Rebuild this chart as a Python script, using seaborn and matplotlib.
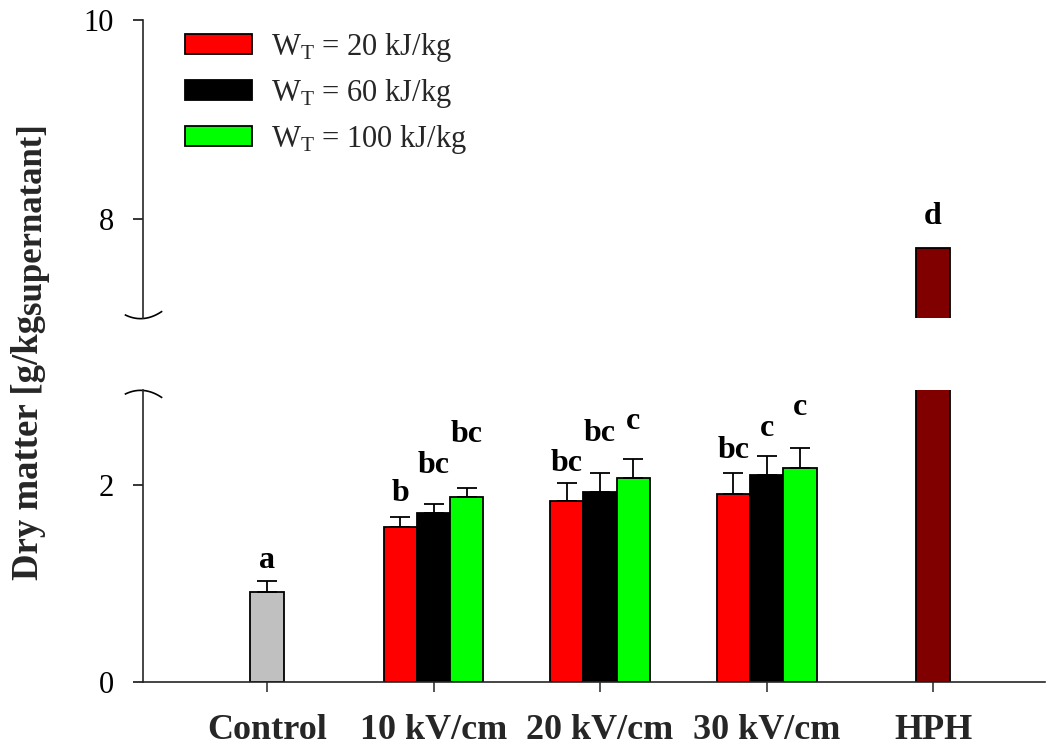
import numpy as np
import pandas as pd
import matplotlib
matplotlib.use("Agg")
import matplotlib.pyplot as plt
from matplotlib.path import Path
from matplotlib.patches import Patch
import seaborn as sns

# ---------------- data ----------------
categories = ["Control", "10 kV/cm", "20 kV/cm", "30 kV/cm", "HPH"]

single_cats = ["Control", "HPH"]
single_vals = [0.91, 7.71]
single_err = [0.11, 0.0]
single_letters = ["a", "d"]
single_letter_y = [1.16, 7.95]

pef_cats = ["10 kV/cm", "20 kV/cm", "30 kV/cm"]
energy_levels = [r"W$_{\mathrm{T}}$ = 20 kJ/kg",
                 r"W$_{\mathrm{T}}$ = 60 kJ/kg",
                 r"W$_{\mathrm{T}}$ = 100 kJ/kg"]
vals_20 = [1.57, 1.83, 1.91]
vals_60 = [1.71, 1.93, 2.10]
vals_100 = [1.88, 2.07, 2.17]
err_20 = [0.10, 0.19, 0.21]
err_60 = [0.09, 0.19, 0.19]
err_100 = [0.09, 0.19, 0.20]
letters_20 = ["b", "bc", "bc"]
letters_60 = ["bc", "bc", "c"]
letters_100 = ["bc", "c", "c"]
letter_y_20 = [1.83, 2.14, 2.27]
letter_y_60 = [2.12, 2.44, 2.49]
letter_y_100 = [2.43, 2.56, 2.71]

ylabel_main = "Dry matter [g/kg"
ylabel_sub = "supernatant]"

single_colors = ["#C0C0C0", "#800000"]
energy_colors = ["#FF0000", "#000000", "#00FF00"]

# ---------------- tables ----------------
df_single = pd.DataFrame({"Treatment": single_cats, "Value": single_vals})
df_pef = pd.DataFrame({
    "Treatment": pef_cats * 3,
    "Energy": [energy_levels[0]] * 3 + [energy_levels[1]] * 3 + [energy_levels[2]] * 3,
    "Value": vals_20 + vals_60 + vals_100,
})
pef_errs = [err_20, err_60, err_100]
pef_letters = [letters_20, letters_60, letters_100]
pef_letter_y = [letter_y_20, letter_y_60, letter_y_100]

# ---------------- style ----------------
sns.set_theme(style="ticks")
plt.rcParams["font.family"] = ["Liberation Serif", "DejaVu Serif"]
plt.rcParams["mathtext.fontset"] = "custom"
plt.rcParams["mathtext.rm"] = "Liberation Serif"
plt.rcParams["mathtext.it"] = "Liberation Serif:italic"
plt.rcParams["mathtext.bf"] = "Liberation Serif:bold"

fig = plt.figure(figsize=(10.51, 7.54), dpi=100)
ax_low = fig.add_axes([0.136, 0.0955, 0.858, 0.3873])
ax_up = fig.add_axes([0.136, 0.578, 0.858, 0.3955])

LW = 1.3
LETTER_FS = 23


def draw(ax):
    sns.barplot(data=df_single, x="Treatment", y="Value", hue="Treatment",
                order=categories, hue_order=single_cats,
                palette=dict(zip(single_cats, single_colors)), saturation=1,
                width=0.2, dodge=False, errorbar=None, edgecolor="black",
                linewidth=LW, legend=False, ax=ax)
    n0 = len(ax.containers)
    sns.barplot(data=df_pef, x="Treatment", y="Value", hue="Energy",
                order=categories, hue_order=energy_levels,
                palette=dict(zip(energy_levels, energy_colors)), saturation=1,
                width=0.6, dodge=True, errorbar=None, edgecolor="black",
                linewidth=LW, legend=False, ax=ax)
    info = []
    for cont in ax.containers[:n0]:
        for bar in cont:
            xc = bar.get_x() + bar.get_width() / 2
            cat = categories[int(round(xc))]
            i = single_cats.index(cat)
            info.append((xc, bar.get_height(), single_err[i],
                         single_letters[i], single_letter_y[i]))
    for k, cont in enumerate(ax.containers[n0:n0 + 3]):
        for bar in cont:
            xc = bar.get_x() + bar.get_width() / 2
            cat = categories[int(round(xc))]
            j = pef_cats.index(cat)
            info.append((xc, bar.get_height(), pef_errs[k][j],
                         pef_letters[k][j], pef_letter_y[k][j]))
    return info


info_low = draw(ax_low)
info_up = draw(ax_up)

for ax, info, lim in [(ax_low, info_low, (0, 2.96)), (ax_up, info_up, (7.0, 10.0))]:
    ax.set_ylim(*lim)
    ax.set_xlim(-0.745, 4.67)
    for xc, h, e, letter, ly in info:
        if e > 0:
            ax.errorbar([xc], [h], yerr=[[0], [e]], fmt="none", ecolor="black",
                        elinewidth=LW, capsize=7.5, capthick=LW, zorder=3)
        if lim[0] <= ly <= lim[1]:
            ax.text(xc, ly, letter, ha="center", va="baseline",
                    fontsize=LETTER_FS, fontweight="bold", color="black")
    ax.set_xlabel("")
    ax.set_ylabel("")
    for s in ["top", "right"]:
        ax.spines[s].set_visible(False)
    ax.spines["left"].set_linewidth(1.2)
    ax.spines["bottom"].set_linewidth(1.2)
    ax.tick_params(axis="y", direction="out", length=7, width=1.1, pad=14,
                   labelsize=22, colors="black")

ax_low.set_yticks([0, 2])
ax_up.set_yticks([8, 10])
ax_low.tick_params(axis="x", direction="out", length=7, width=1.1, pad=16,
                   labelsize=26)
for lab in ax_low.get_xticklabels():
    lab.set_fontweight("bold")
ax_up.spines["bottom"].set_visible(False)
ax_up.tick_params(axis="x", bottom=False, labelbottom=False)

# break marks
xs = np.linspace(-19, 19, 40)
ys = -3 + 4 * ((xs + 3) / 16) ** 2
ys = ys - (-3 + 4 * (3 / 16) ** 2)
path_up = Path(np.column_stack([xs, ys]))
path_low = Path(np.column_stack([xs, -ys]))
ax_up.plot([0], [0], transform=ax_up.transAxes, marker=path_up, markersize=27,
           markerfacecolor="none", markeredgecolor="black", markeredgewidth=1.2,
           clip_on=False, linestyle="none")
ax_low.plot([0], [1], transform=ax_low.transAxes, marker=path_low, markersize=27,
            markerfacecolor="none", markeredgecolor="black", markeredgewidth=1.2,
            clip_on=False, linestyle="none")

# legend
handles = [Patch(facecolor=c, edgecolor="black", linewidth=LW) for c in energy_colors]
ax_up.legend(handles=handles, labels=energy_levels, loc="upper left",
             bbox_to_anchor=(0.04, 0.985), frameon=False, fontsize=22,
             handlelength=2.2, handleheight=0.65, labelspacing=0.43,
             handletextpad=0.6, borderaxespad=0.0, borderpad=0.2)

# y label: main part plus lowered "supernatant" part
t1 = fig.text(46 / 1051, 1 - 580 / 754, ylabel_main, rotation=90, ha="right",
              va="bottom", fontsize=26.5, fontweight="bold")
fig.canvas.draw()
bb = t1.get_window_extent(renderer=fig.canvas.get_renderer())
fig.text((bb.x1 + 3) / fig.bbox.width, (bb.y1 + 1) / fig.bbox.height, ylabel_sub,
         rotation=90, ha="right", va="bottom", fontsize=25, fontweight="bold")

fig.savefig("out.png", dpi=100, facecolor="white")
